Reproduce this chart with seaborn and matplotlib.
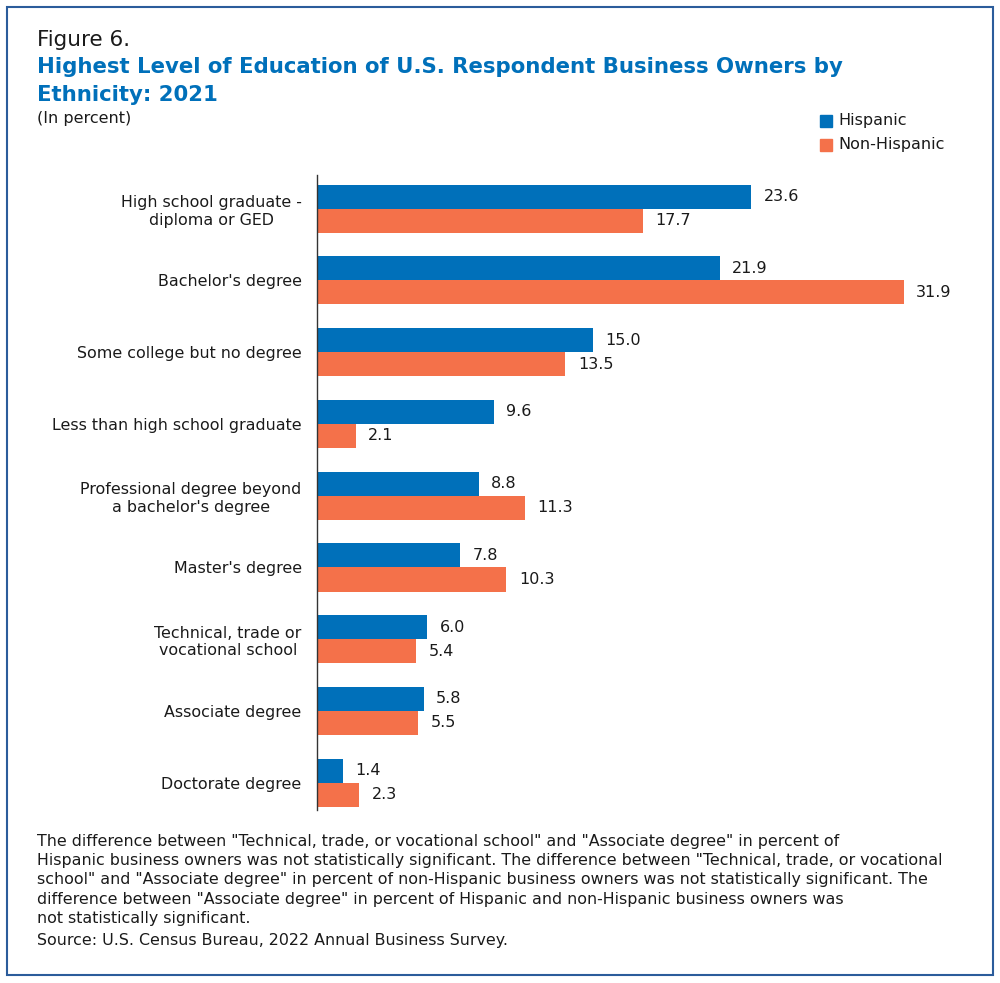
import matplotlib
matplotlib.use("Agg")
import matplotlib.pyplot as plt
import seaborn as sns
import pandas as pd
from matplotlib.patches import Rectangle

categories = ["High school graduate -\ndiploma or GED", "Bachelor's degree",
              "Some college but no degree", "Less than high school graduate",
              "Professional degree beyond\na bachelor's degree", "Master's degree",
              "Technical, trade or\nvocational school", "Associate degree",
              "Doctorate degree"]
hispanic = [23.6, 21.9, 15.0, 9.6, 8.8, 7.8, 6.0, 5.8, 1.4]
non_hispanic = [17.7, 31.9, 13.5, 2.1, 11.3, 10.3, 5.4, 5.5, 2.3]
series = ["Hispanic", "Non-Hispanic"]
colors = ["#0070BA", "#F4714A"]

df = pd.DataFrame({
    "category": categories * 2,
    "value": hispanic + non_hispanic,
    "group": [series[0]] * len(categories) + [series[1]] * len(categories),
})

sns.set_theme(style="white")
plt.rcParams["font.family"] = ["DejaVu Sans"]

fig = plt.figure(figsize=(10, 9.83), dpi=100)
ax = fig.add_axes([0.317, 0.176, 0.607, 0.646])
sns.barplot(data=df, y="category", x="value", hue="group", order=categories,
            hue_order=series, palette=colors, orient="h", width=0.67,
            saturation=1, ax=ax, legend=False, linewidth=0, edgecolor="none")

ax.set_xlim(0, 33)
ax.set_ylim(8.38, -0.47)
ax.set_xlabel("")
ax.set_ylabel("")
ax.set_xticks([])
for s in ["top", "right", "bottom"]:
    ax.spines[s].set_visible(False)
ax.spines["left"].set_color("#333333")
ax.spines["left"].set_linewidth(1.0)
ax.tick_params(axis="y", length=0, pad=11, labelsize=11.4, colors="#1a1a1a")
for lab in ax.get_yticklabels():
    lab.set_horizontalalignment("right")
    lab.set_multialignment("center")

for cont in ax.containers:
    ax.bar_label(cont, fmt="%.1f", padding=9, fontsize=11.5, color="#1a1a1a")

# Legend
for i, (name, c) in enumerate(zip(series, colors)):
    y = 1 - (121 + 24 * i) / 983
    fig.patches.append(Rectangle((0.820, y - 0.0065), 0.012, 0.013, color=c,
                                 transform=fig.transFigure, figure=fig))
    fig.text(0.838, y, name, fontsize=11.5, va="center", ha="left", color="#1a1a1a")

# Titles
fig.text(0.037, 1 - 40 / 983, "Figure 6.", fontsize=15.5, va="center", color="#1a1a1a")
fig.text(0.037, 1 - 67 / 983,
         "Highest Level of Education of U.S. Respondent Business Owners by",
         fontsize=15.3, fontweight="bold", va="center", color="#0070BA")
fig.text(0.037, 1 - 95 / 983, "Ethnicity: 2021", fontsize=15.3,
         fontweight="bold", va="center", color="#0070BA")
fig.text(0.037, 1 - 119 / 983, "(In percent)", fontsize=11.5, va="center", color="#1a1a1a")

note = ("The difference between \"Technical, trade, or vocational school\" and \"Associate degree\" in percent of\n"
        "Hispanic business owners was not statistically significant. The difference between \"Technical, trade, or vocational\n"
        "school\" and \"Associate degree\" in percent of non-Hispanic business owners was not statistically significant. The\n"
        "difference between \"Associate degree\" in percent of Hispanic and non-Hispanic business owners was\n"
        "not statistically significant.")
fig.text(0.037, 1 - 834 / 983, note, fontsize=11.4, va="top", ha="left",
         linespacing=1.35, color="#1a1a1a")
fig.text(0.037, 1 - 941 / 983, "Source: U.S. Census Bureau, 2022 Annual Business Survey.",
         fontsize=11.4, va="center", color="#1a1a1a")

fig.patches.append(Rectangle((0.007, 1 - 975 / 983), 0.986, (975 - 7) / 983,
                             fill=False, edgecolor="#2B5C9B", linewidth=1.5,
                             transform=fig.transFigure, figure=fig))

fig.savefig("out.png", dpi=100, facecolor="white")
